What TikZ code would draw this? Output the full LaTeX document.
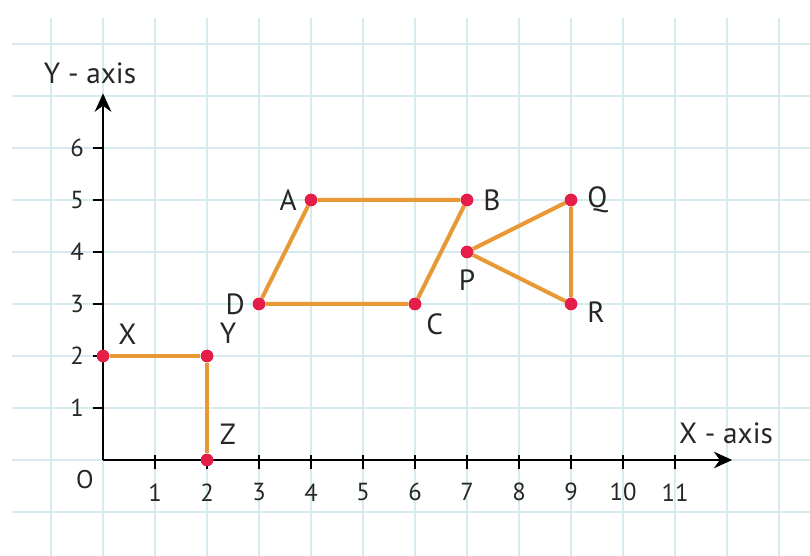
\documentclass[tikz,border=0pt]{standalone}
\usepackage{fontspec}
\setmainfont{PT Sans}
\usepackage{xcolor}
\usetikzlibrary{arrows.meta, positioning}

\definecolor{gridblue}{RGB}{214,234,240}
\definecolor{segorange}{RGB}{232,152,52}
\definecolor{dotred}{RGB}{228,30,72}

\begin{document}
\begin{tikzpicture}[
  font=\fontsize{16}{19}\selectfont,
  pt/.style={circle, fill=dotred, inner sep=0pt, minimum size=0.24cm},
  lbl/.style={inner sep=0pt, text=black!85},
  num/.style={inner sep=0pt, font=\fontsize{13.5}{16}\selectfont, text=black!85},
  seg/.style={draw=segorange, line width=2.2pt},
  axis/.style={line width=1.6pt, -{Stealth[length=10pt, width=9pt]}},
  tick/.style={line width=1.2pt},
]
\useasboundingbox (-1.981,-1.846) rectangle (13.596,8.846);

%% Squared paper
\foreach \x in {-1,...,13}
  \draw[gridblue, line width=0.8pt] (\x,-1.846) -- (\x,8.5);
\foreach \y in {-1,...,8}
  \draw[gridblue, line width=0.8pt] (-1.75,\y) -- (13.596,\y);

%% Axes
\coordinate (orig) at (0,0);
\coordinate (xend) at (12.1,0);
\coordinate (yend) at (0,7.05);
\draw[axis] (orig) -- (xend);
\draw[axis] (orig) -- (yend);
\node[lbl] (xlab) at (11.98,0.52) {X - axis};
\node[lbl] (ylab) at (-0.25,7.44) {Y - axis};
\node[num, font=\fontsize{14}{16}\selectfont] (olab) at (-0.35,-0.38) {O};

%% Ticks and numbers
\foreach \x in {1,...,11} {
  \draw[tick] (\x,0.1) -- (\x,-0.18);
  \node[num] at (\x,-0.62) {\x};
}
\foreach \y in {1,...,6} {
  \draw[tick] (-0.2,\y) -- (0,\y);
  \node[num] at (-0.5,\y) {\y};
}

%% Points
\node[pt] (X) at (0,2) {};
\node[pt] (Y) at (2,2) {};
\node[pt] (Z) at (2,0) {};
\node[pt] (A) at (4,5) {};
\node[pt] (B) at (7,5) {};
\node[pt] (C) at (6,3) {};
\node[pt] (D) at (3,3) {};
\node[pt] (P) at (7,4) {};
\node[pt] (Q) at (9,5) {};
\node[pt] (R) at (9,3) {};

%% Segments
\draw[seg] (X) -- (Y) -- (Z);
\draw[seg] (A) -- (B) -- (C) -- (D) -- (A);
\draw[seg] (P) -- (Q) -- (R) -- (P);

%% Redraw dots on top
\foreach \p in {X,Y,Z,A,B,C,D,P,Q,R}
  \fill[dotred] (\p) circle (0.12);

%% Point labels
\node[lbl, above right=0.12cm and 0.2cm of X] {X};
\node[lbl, above right=0.14cm and 0.15cm of Y] {Y};
\node[lbl, above right=0.2cm and 0.15cm of Z] {Z};
\node[lbl, left=0.14cm of A] {A};
\node[lbl, right=0.18cm of B] {B};
\node[lbl, below right=0.08cm and 0.12cm of C] {C};
\node[lbl, left=0.14cm of D] {D};
\node[lbl, below=0.2cm of P] {P};
\node[lbl, right=0.18cm of Q] {Q};
\node[lbl, right=0.18cm of R, yshift=-0.15cm] {R};
\end{tikzpicture}
\end{document}
